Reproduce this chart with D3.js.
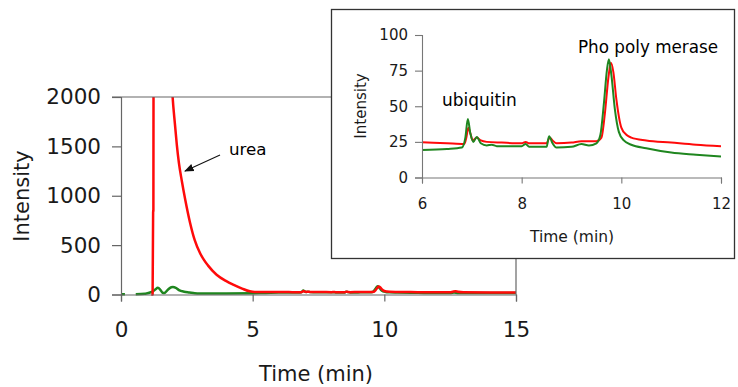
<!DOCTYPE html>
<html><head><meta charset="utf-8">
<script src="https://cdn.jsdelivr.net/npm/d3@7/dist/d3.min.js"></script>
<style>
html,body{margin:0;padding:0;background:#fff;}
svg{display:block;font-family:"DejaVu Sans",Verdana,sans-serif;}
</style></head>
<body>
<svg id="chart" width="738" height="387"></svg>
<script>
// ---------- DATA ----------
// inset (6–12 min) red trace
const insetRedT = [6.0,6.5,6.85,6.89,6.93,6.97,7.02,7.1,7.18,7.3,7.6,8.0,8.08,8.15,8.5,8.56,8.62,8.7,9.0,9.2,9.5,9.6,9.67,9.74,9.79,9.84,9.9,10.0,10.1,10.2,10.5,11.0,11.5,12.0];
const insetRedV = [24.7,24,23.5,28,35,31,26,28,26,25,24.5,24,25,24,24,28,26,24,24.5,25.5,25.5,28,45,70,80.5,74,55,35,30,28,26,24.5,23,22];
// inset green trace
const insetGreenT = [6.0,6.5,6.8,6.87,6.92,6.97,7.03,7.1,7.18,7.3,7.4,7.5,7.7,8.0,8.08,8.15,8.5,8.55,8.62,8.7,9.0,9.2,9.35,9.5,9.58,9.65,9.71,9.75,9.8,9.87,9.95,10.05,10.2,10.5,11.0,11.5,12.0];
const insetGreenV = [19.3,20,21,28,41,31,25,28.5,24,22.5,23,22,22,22,23.5,21.5,21.5,29,24,21,21.5,23.5,22.5,24,30,52,75,83,72,48,32,26,23,20.5,17.5,16,14.7];

// main chart, before and after the inset window
const earlyRedT = [1.15,1.2,1.22,1.23,1.25,1.5,1.9,1.96,2.05,2.12,2.2,2.31,2.44,2.62,2.8,3.0,3.15,3.3,3.63,4.0,4.26,4.6,4.89,5.08,5.5,5.99];
const earlyRedV = [0,0,838,845,6000,8000,2300,2000,1720,1515,1330,1150,960,730,550,420,350,295,200,135,100,60,32,25,25,25];
const earlyGreenT = [0.0,0.15,0.16,0.55,0.56,0.9,1.0,1.1,1.2,1.3,1.4,1.5,1.58,1.65,1.75,1.85,1.97,2.08,2.2,2.4,2.6,2.8,3.0,4.0,5.0,5.5,5.99];
const earlyGreenV = [3,3,null,null,2,8,12,20,30,50,69,45,18,15,40,65,75,68,45,28,20,12,10,10,12,16,19];
const lateRedT = [12.01,12.5,12.6,12.7,12.8,13.0,15.0];
const lateRedV = [22,22,28,33,27,22,21];
const lateGreenT = [12.01,12.5,12.65,12.8,13.0,15.0];
const lateGreenV = [14.7,15,20,15,14.5,14];

const mainXTicks = [0,5,10,15];
const mainYTicks = [0,500,1000,1500,2000];
const insetXTicks = [6,8,10,12];
const insetYTicks = [0,25,50,75,100];

// ---------- BUILD ----------
const zip = (t,v) => t.map((x,i)=>({t:x,v:v[i]}));
const mainRed = zip(earlyRedT,earlyRedV).concat(zip(insetRedT,insetRedV), zip(lateRedT,lateRedV));
const mainGreen = zip(earlyGreenT,earlyGreenV).concat(zip(insetGreenT,insetGreenV), zip(lateGreenT,lateGreenV));
const insetRed = zip(insetRedT,insetRedV);
const insetGreen = zip(insetGreenT,insetGreenV);

const RED = "#ff0a0a", GREEN = "#1f861f", TXT = "#1a1a1a";
const svg = d3.select("#chart");

// ----- main chart -----
const mx = d3.scaleLinear().domain([0,15]).range([121,516]);
const my = d3.scaleLinear().domain([0,2000]).range([294.5,97]);

svg.append("clipPath").attr("id","mclip").append("rect")
  .attr("x",121).attr("y",97).attr("width",395).attr("height",200);

const mline = d3.line().defined(d=>d.v!==null).x(d=>mx(d.t)).y(d=>my(d.v)).curve(d3.curveMonotoneX);
const mg = svg.append("g").attr("clip-path","url(#mclip)");
mg.append("path").datum(mainGreen).attr("d",mline).attr("fill","none").attr("stroke",GREEN).attr("stroke-width",2.5).attr("stroke-linejoin","round");
mg.append("path").datum(mainRed).attr("d",mline).attr("fill","none").attr("stroke",RED).attr("stroke-width",2.5).attr("stroke-linejoin","round");

// frame: top and right
svg.append("line").attr("x1",112).attr("x2",516).attr("y1",my(2000)).attr("y2",my(2000)).attr("stroke","#666").attr("stroke-width",1.2);
svg.append("line").attr("x1",516).attr("x2",516).attr("y1",my(2000)).attr("y2",my(0)).attr("stroke","#666").attr("stroke-width",1.2);

const yAx = svg.append("g").attr("transform","translate(121,0)")
  .call(d3.axisLeft(my).tickValues(mainYTicks).tickSize(9).tickPadding(11).tickFormat(d3.format("d")));
const xAx = svg.append("g").attr("transform",`translate(0,${my(0)})`)
  .call(d3.axisBottom(mx).tickValues(mainXTicks).tickSize(7).tickPadding(20).tickFormat(d3.format("d")));
[yAx,xAx].forEach(a=>{
  a.select(".domain").attr("stroke","#666").attr("stroke-width",1.2);
  a.selectAll(".tick line").attr("stroke","#666").attr("stroke-width",1.2);
  a.selectAll(".tick text").attr("fill",TXT).style("font-size","21.5px").style("font-family","DejaVu Sans");
});

svg.append("text").attr("x",316).attr("y",381).attr("text-anchor","middle")
  .attr("fill",TXT).style("font-size","21px").text("Time (min)");
svg.append("text").attr("transform","translate(29,196) rotate(-90)").attr("text-anchor","middle")
  .attr("fill",TXT).style("font-size","21px").text("Intensity");

// urea annotation
svg.append("defs").append("marker").attr("id","arr").attr("viewBox","0 0 10 10")
  .attr("refX",9).attr("refY",5).attr("markerWidth",8).attr("markerHeight",8).attr("orient","auto")
  .append("path").attr("d","M0,1 L10,5 L0,9 Z").attr("fill","#111");
svg.append("line").attr("x1",220).attr("y1",155).attr("x2",185).attr("y2",171)
  .attr("stroke","#111").attr("stroke-width",1.2).attr("marker-end","url(#arr)");
svg.append("text").attr("x",229).attr("y",155).attr("fill","#000").style("font-size","16.7px").text("urea");

// ----- inset -----
svg.append("rect").attr("x",331.5).attr("y",9.5).attr("width",403).attr("height",249)
  .attr("fill","#fff").attr("stroke","#333").attr("stroke-width",1.3);

const ix = d3.scaleLinear().domain([6,12]).range([422,721]);
const iy = d3.scaleLinear().domain([0,100]).range([177.5,35]);
svg.append("clipPath").attr("id","iclip").append("rect")
  .attr("x",422).attr("y",20).attr("width",300).attr("height",158);
const iline = d3.line().x(d=>ix(d.t)).y(d=>iy(d.v)).curve(d3.curveMonotoneX);
const ig = svg.append("g").attr("clip-path","url(#iclip)");
ig.append("path").datum(insetRed).attr("d",iline).attr("fill","none").attr("stroke",RED).attr("stroke-width",2).attr("stroke-linejoin","round");
ig.append("path").datum(insetGreen).attr("d",iline).attr("fill","none").attr("stroke",GREEN).attr("stroke-width",2).attr("stroke-linejoin","round");

const iyAx = svg.append("g").attr("transform","translate(422,0)")
  .call(d3.axisLeft(iy).tickValues(insetYTicks).tickSize(7).tickPadding(7).tickFormat(d3.format("d")));
const ixAx = svg.append("g").attr("transform",`translate(0,${iy(0)})`)
  .call(d3.axisBottom(ix).tickValues(insetXTicks).tickSize(6).tickPadding(15).tickFormat(d3.format("d")));
[iyAx,ixAx].forEach(a=>{
  a.select(".domain").attr("stroke","#777").attr("stroke-width",1.1);
  a.selectAll(".tick line").attr("stroke","#777").attr("stroke-width",1.1);
  a.selectAll(".tick text").attr("fill",TXT).style("font-size","15px").style("font-family","DejaVu Sans");
});
svg.append("text").attr("x",572).attr("y",242).attr("text-anchor","middle")
  .attr("fill",TXT).style("font-size","15.5px").text("Time (min)");
svg.append("text").attr("transform","translate(366,106) rotate(-90)").attr("text-anchor","middle")
  .attr("fill",TXT).style("font-size","15px").text("Intensity");
svg.append("text").attr("x",442).attr("y",106).attr("fill","#000").style("font-size","17px").text("ubiquitin");
svg.append("text").attr("x",578).attr("y",53).attr("fill","#000").style("font-size","16.8px").text("Pho poly merase");
</script>
</body></html>
